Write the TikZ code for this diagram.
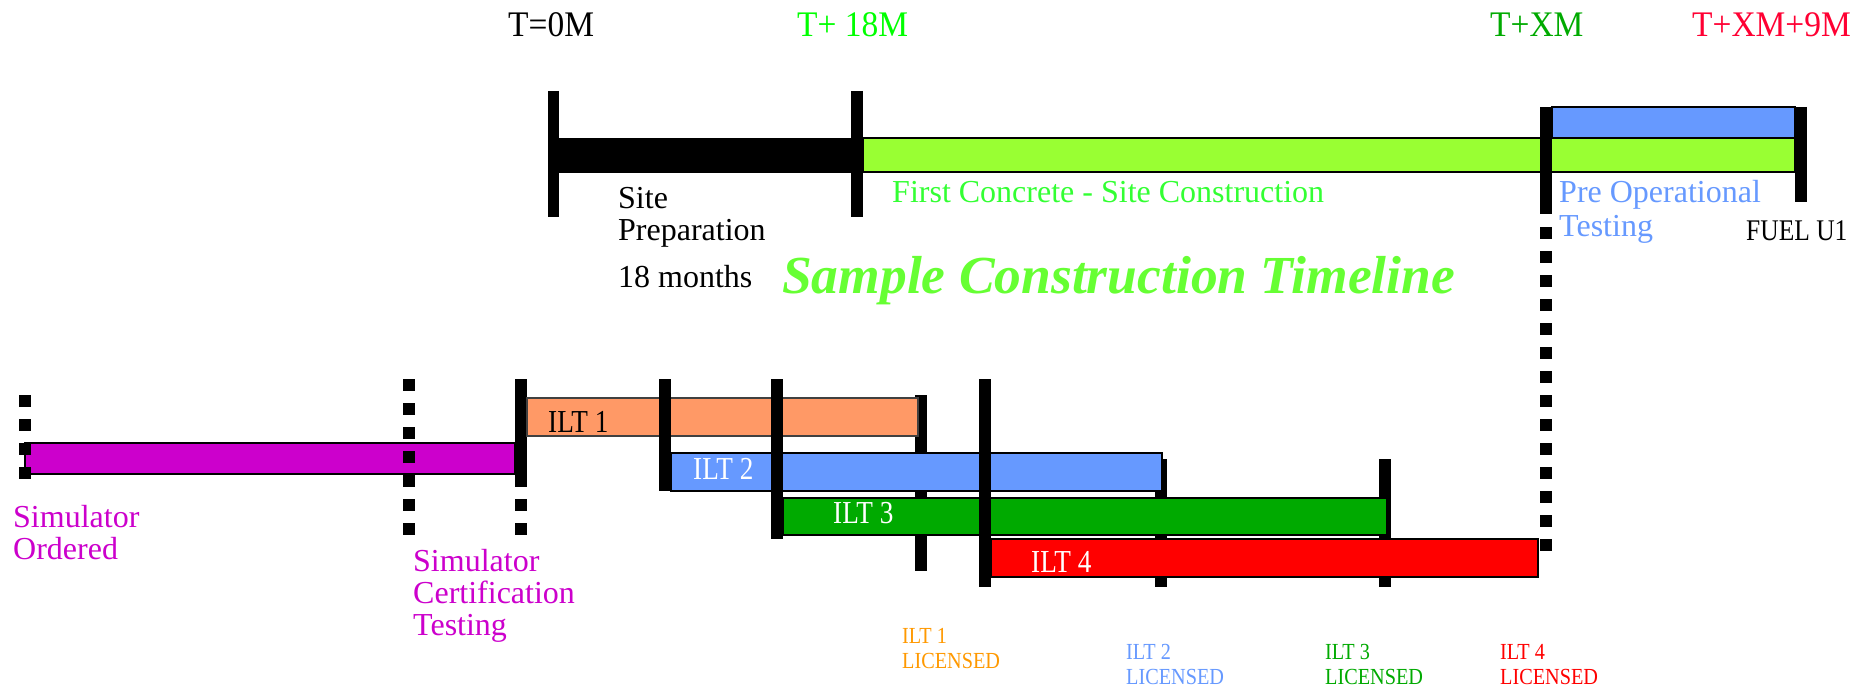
\documentclass[tikz,border=0pt]{standalone}
\usepackage{fontspec}
\setmainfont{Liberation Serif}
\newfontfamily\tfam[FakeStretch=0.93]{Liberation Serif}
\newfontfamily\cfam[FakeStretch=0.85]{Liberation Serif}
\newfontfamily\lfam[FakeStretch=0.88]{Liberation Serif}
\definecolor{limeT}{HTML}{00FF00}
\definecolor{barGreen}{HTML}{99FF33}
\definecolor{fcText}{HTML}{33FF33}
\definecolor{sampleG}{HTML}{66FF33}
\definecolor{darkG}{HTML}{00AA00}
\definecolor{redT}{HTML}{FF0033}
\definecolor{blueB}{HTML}{6699FF}
\definecolor{magB}{HTML}{CC00CC}
\definecolor{orangeB}{HTML}{FF9966}
\definecolor{orangeT}{HTML}{FF9900}
\definecolor{redB}{HTML}{FF0000}
\tikzset{
  vbar/.style={line width=11.5pt, draw=black},
  dotbar/.style={line width=12pt, draw=black, dash pattern=on 12pt off 12pt},
  ganttbar/.style={draw=black, line width=2pt},
  lbl/.style={anchor=base west, inner sep=0pt},
  tlbl/.style={lbl, font=\tfam\fontsize{36}{36}\selectfont},
  txt/.style={lbl, font=\fontsize{32}{32}\selectfont},
  ilt/.style={lbl, font=\cfam\fontsize{32}{32}\selectfont},
  lic/.style={lbl, font=\lfam\fontsize{23}{23}\selectfont}
}
\begin{document}
\begin{tikzpicture}[x=1pt,y=-1pt]
\useasboundingbox[fill=white] (0,0) rectangle (1872,690);

% ---------- top timeline ----------
\draw[ganttbar, fill=barGreen] (863,138) rectangle (1795,172);
\draw[ganttbar, fill=blueB] (1552,107) rectangle (1795,138);
\fill[black] (559,138) rectangle (851,173);
\draw[vbar] (553.5,91) -- (553.5,217);
\draw[vbar] (857,91) -- (857,217);
\draw[vbar] (1546,107) -- (1546,214);
\draw[dotbar] (1546,227) -- (1546,551);
\draw[vbar] (1801,107) -- (1801,202);

% ---------- simulator ----------
\draw[ganttbar, line width=2.5pt, fill=magB] (25,443) rectangle (515,474);
\draw[dotbar] (25,395) -- (25,479);
\draw[dotbar] (409,379) -- (409,535);
\draw[vbar] (521,379) -- (521,487);
\draw[dotbar] (521,499) -- (521,535);

% ---------- ILT end markers (behind bars) ----------
\draw[vbar] (921,395) -- (921,571);
\draw[vbar] (1161,459) -- (1161,587);
\draw[vbar] (1385,459) -- (1385,587);

% ---------- ILT bars ----------
\draw[ganttbar, draw=black!75, fill=orangeB] (527,398) rectangle (918,436);
\draw[ganttbar, fill=blueB] (671,453) rectangle (1162,491);
\draw[ganttbar, fill=darkG] (783,498) rectangle (1387,535);
\draw[ganttbar, fill=redB] (991,539) rectangle (1538,577);

% ---------- ILT start markers (on top) ----------
\draw[vbar] (665,379) -- (665,491);
\draw[vbar] (777,379) -- (777,539);
\draw[vbar] (985,379) -- (985,587);

% ---------- top labels ----------
\node[tlbl] (t0) at (508,37) {T=0M};
\node[tlbl, text=limeT] (t18) at (797,37) {T+ 18M};
\node[tlbl, text=darkG] (tx) at (1490,37) {T+XM};
\node[tlbl, text=redT] (tx9) at (1692,37) {T+XM+9M};

\node[txt] (site1) at (618,208) {Site};
\node[txt] (site2) at (618,240) {Preparation};
\node[txt] (site3) at (618,287) {18 months};
\node[txt, text=fcText] (fc) at (892,203) {First Concrete - Site Construction};
\node[txt, text=blueB] (pre1) at (1559,203) {Pre Operational};
\node[txt, text=blueB] (pre2) at (1559,236) {Testing};
\node[lbl, font=\cfam\fontsize{30}{30}\selectfont] (fuel) at (1746,240) {FUEL U1};
\node[lbl, text=sampleG, font=\bfseries\itshape\fontsize{53.5}{53.5}\selectfont] (title) at (782,293) {Sample Construction Timeline};

% ---------- simulator labels ----------
\node[txt, text=magB] (so1) at (13,527) {Simulator};
\node[txt, text=magB] (so2) at (13,559) {Ordered};
\node[txt, text=magB] (sc1) at (413,571) {Simulator};
\node[txt, text=magB] (sc2) at (413,603) {Certification};
\node[txt, text=magB] (sc3) at (413,635) {Testing};

% ---------- ILT labels ----------
\node[ilt] (ilt1) at (548,432) {ILT 1};
\node[ilt, text=white] (ilt2) at (693,479) {ILT 2};
\node[ilt, text=white] (ilt3) at (833,523) {ILT 3};
\node[ilt, text=white] (ilt4) at (1031,572) {ILT 4};

% ---------- licensed labels ----------
\node[lic, text=orangeT] (l1a) at (902,643) {ILT 1};
\node[lic, text=orangeT] (l1b) at (902,668) {LICENSED};
\node[lic, text=blueB] (l2a) at (1126,659) {ILT 2};
\node[lic, text=blueB] (l2b) at (1126,684) {LICENSED};
\node[lic, text=darkG] (l3a) at (1325,659) {ILT 3};
\node[lic, text=darkG] (l3b) at (1325,684) {LICENSED};
\node[lic, text=redB] (l4a) at (1500,659) {ILT 4};
\node[lic, text=redB] (l4b) at (1500,684) {LICENSED};
\end{tikzpicture}
\end{document}
